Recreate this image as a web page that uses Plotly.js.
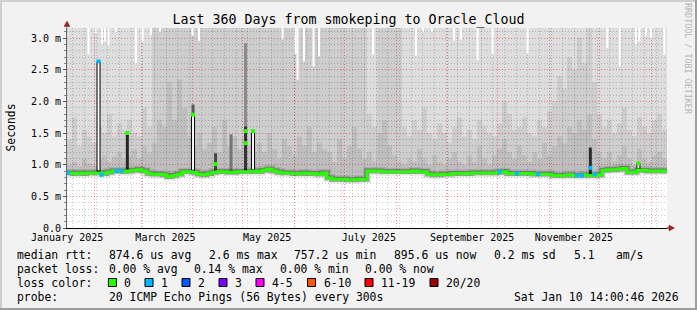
<!DOCTYPE html>
<html><head><meta charset="utf-8">
<script src="https://cdn.plot.ly/plotly-3.0.1.min.js"></script>
<style>html,body{margin:0;padding:0;background:#f2f2f2;overflow:hidden}#chart{width:697px;height:310px}</style>
</head><body><div id="chart"></div>
<script>
// ---------------- data ----------------
const rangeStart = '2025-01-15 14:00';
const rangeEnd   = '2026-01-10 14:00';
const bucketDays = 3;

// median RTT per 3-day bucket (ms)
const medianRtt = [
0.87,0.86,0.87,0.86,0.87,0.87,0.87,0.86,0.88,0.90,
0.90,0.89,0.90,0.91,0.92,0.90,0.86,0.85,0.85,0.84,
0.81,0.83,0.85,0.89,0.89,0.88,0.85,0.84,0.86,0.88,
0.89,0.89,0.88,0.88,0.89,0.89,0.89,0.90,0.89,0.91,
0.93,0.90,0.88,0.87,0.87,0.86,0.86,0.87,0.86,0.86,
0.85,0.87,0.79,0.77,0.77,0.77,0.76,0.76,0.77,0.77,
0.90,0.90,0.90,0.89,0.89,0.89,0.89,0.89,0.89,0.90,
0.89,0.89,0.85,0.84,0.84,0.85,0.85,0.86,0.86,0.86,
0.86,0.87,0.87,0.87,0.87,0.87,0.88,0.89,0.86,0.86,
0.86,0.86,0.86,0.85,0.85,0.85,0.85,0.83,0.83,0.83,
0.84,0.83,0.83,0.84,0.83,0.83,0.84,0.91,0.92,0.92,
0.93,0.94,0.88,0.88,0.91,0.91,0.90,0.90,0.90,0.90];

// upper edge of the dense smoke (ms)
const smokeInner = [
1.00,1.05,0.98,1.10,1.02,0.99,1.08,1.15,1.05,1.12,
1.20,1.10,1.15,1.25,1.10,1.30,1.18,1.35,1.70,1.60,
2.30,1.70,2.35,1.90,1.45,1.30,1.50,1.25,1.35,1.60,
1.20,1.70,1.30,1.45,1.25,1.40,1.30,1.20,1.35,1.20,
1.50,1.25,1.10,1.40,1.30,1.15,1.45,1.30,1.60,1.20,
1.35,1.25,1.20,1.05,1.40,1.10,1.30,1.60,1.25,1.10,
1.20,1.05,1.50,1.70,1.30,1.15,1.05,1.00,1.10,1.05,
1.25,1.10,1.00,1.15,1.05,1.00,1.10,1.20,1.05,1.00,
1.15,1.05,1.30,1.10,1.00,1.15,1.25,1.40,1.20,1.10,
1.30,1.15,1.05,1.20,1.10,1.35,1.15,1.30,1.45,1.35,
1.60,1.50,1.70,1.55,1.80,1.40,1.20,1.10,1.20,1.05,
1.15,1.30,1.10,1.00,1.25,1.10,1.05,1.15,1.20,1.10];

// upper edge of the middle smoke (ms; 3.2 = off the top of the chart)
const smokeOuter = [
1.40,1.75,1.30,1.55,1.45,1.35,1.60,1.50,1.80,1.45,
1.65,1.55,1.70,1.50,1.45,1.90,1.60,3.2,3.2,3.2,
3.2,3.2,3.2,3.2,3.2,3.2,3.2,3.2,3.2,3.2,
3.2,3.2,3.2,3.2,3.2,3.2,3.2,3.2,3.2,3.2,
3.2,3.2,3.2,3.2,3.2,3.2,3.2,3.2,3.2,3.2,
3.2,3.2,3.2,3.2,3.2,3.2,3.2,3.2,3.2,3.2,
1.80,1.60,3.2,3.2,3.2,3.2,3.2,1.60,1.45,1.70,
1.55,1.90,1.50,1.40,1.65,1.50,1.35,1.60,1.75,1.45,
1.55,1.40,1.70,1.60,1.50,1.45,1.65,2.00,1.80,1.55,
1.60,1.75,1.50,1.45,1.70,1.60,1.85,2.00,2.40,2.20,
2.70,2.50,3.00,2.60,3.20,2.30,1.80,1.60,1.70,1.50,
1.65,1.90,1.55,1.45,1.75,1.60,1.50,1.70,1.80,1.55];

// max ping per bucket (ms; 3.2 = off the top of the chart)
const maxPing = [
3.2,3.2,3.2,3.2,3.2,3.2,3.2,3.2,3.2,3.2,
3.2,3.2,3.2,3.2,3.2,3.2,3.2,3.2,3.2,3.2,
3.2,3.2,3.2,3.2,3.2,3.2,3.2,3.2,3.2,3.2,
3.2,3.2,3.2,3.2,3.2,3.2,3.2,3.2,3.2,3.2,
3.2,3.2,3.2,3.2,3.2,3.2,3.2,3.2,3.2,3.2,
3.2,3.2,3.2,3.2,3.2,3.2,3.2,3.2,3.2,3.2,
3.2,3.2,3.2,3.2,3.2,3.2,3.2,3.2,3.2,3.2,
3.2,3.2,3.2,3.2,3.2,3.2,3.2,3.2,3.2,3.2,
3.2,3.2,3.2,3.2,3.2,3.2,3.2,3.2,3.2,3.2,
3.2,3.2,3.2,3.2,3.2,3.2,3.2,3.2,3.2,3.2,
3.2,3.2,3.2,3.2,3.2,3.2,3.2,3.2,3.2,3.2,
3.2,3.2,3.2,3.2,3.2,3.2,3.2,3.2,3.2,3.2];

// single days whose max ping stayed on the chart (gap above it)
const gapTimes = ['2025-01-28 12:00','2025-02-01 19:00','2025-02-05 14:00','2025-02-07 10:00','2025-02-09 12:00',
'2025-02-13 22:00','2025-02-25 22:00','2025-03-01 22:00','2025-03-06 22:00','2025-03-12 10:00',
'2025-03-31 22:00','2025-04-04 19:00','2025-05-24 22:00','2025-06-01 17:00','2025-06-02 22:00',
'2025-06-06 19:00','2025-06-12 12:00','2025-06-15 19:00','2025-07-18 05:00','2025-08-13 00:00',
'2025-08-17 05:00','2025-08-22 14:00','2025-09-04 19:00','2025-09-09 00:00','2025-09-18 22:00',
'2025-09-27 22:00','2025-10-18 22:00','2025-12-05 19:00','2025-12-13 07:00','2025-12-22 22:00',
'2025-12-25 00:00','2025-12-28 22:00','2025-12-31 22:00','2026-01-09 00:00'];
const gapMax = [2.74,3.08,2.90,2.95,2.88,3.10,2.60,2.95,3.05,3.10,3.04,2.95,2.98,2.75,2.34,2.63,2.55,2.71,2.74,2.72,
3.10,3.10,2.96,2.98,2.65,2.74,2.76,2.84,2.55,2.90,2.95,3.03,3.00,2.74];

// median spikes (whole bucket of pings moved up)
const spikeTimes = ['2025-02-03 12:00','2025-04-01 05:00','2025-05-07 05:00','2025-12-24 10:00'];
const spikeBase  = [0.87, 0.88, 0.89, 0.90];
const spikeTop   = [2.63, 1.79, 1.53, 1.02];
const spikeLoss  = [1, 0, 0, 0];

// dense dark smoke columns
const burstTimes  = ['2025-02-20 19:00','2025-04-01 05:00','2025-04-14 17:00','2025-04-24 00:00','2025-05-02 17:00','2025-05-02 17:00','2025-11-25 14:00'];
const burstBase   = [0.90, 0.89, 0.89, 0.89, 0.89, 0.89, 0.84];
const burstTop    = [1.50, 1.95, 1.18, 1.48, 2.92, 1.60, 1.27];
const burstMedian = [1.50, null, 1.01, null, 1.34, 1.53, 0.95];
const burstLoss   = [0, 0, 0, 0, 0, 0, 1];
const burstShade  = ['#262626','#5a5a5a','#474747','#767676','#8a8a8a','#333333','#2a2a2a'];

// median samples with 1 lost ping
const loss1Times = ['2025-01-16 05:00','2025-02-05 07:00','2025-02-14 07:00','2025-02-17 07:00','2025-10-02 07:00',
'2025-10-12 14:00','2025-10-25 05:00','2025-11-17 14:00','2025-11-20 14:00','2025-11-28 07:00'];
const loss1Vals  = [0.87, 0.84, 0.90, 0.90, 0.89, 0.86, 0.85, 0.83, 0.83, 0.85];

const yTickVals = [0, 0.5, 1.0, 1.5, 2.0, 2.5, 3.0];
const yTickText = ['0.0', '0.5 m', '1.0 m', '1.5 m', '2.0 m', '2.5 m', '3.0 m'];
const monthLabelTimes = ['2025-01-15 16:00','2025-03-15 16:00','2025-05-15 16:00','2025-07-15 16:00','2025-09-15 16:00','2025-11-15 16:00'];
const monthLabels = ['January 2025','March 2025','May 2025','July 2025','September 2025','November 2025'];

const lossLabels = ['0','1','2','3','4-5','6-10','11-19','20/20'];
const lossColors = ['#26ff00','#00b8ff','#0059ff','#7e00ff','#ff00ff','#ff5500','#ff0000','#a10000'];

const titleText = 'Last 360 Days from smokeping to Oracle_Cloud';
const statLines = [
  [[16,'median rtt:'],[107.6,'874.6 us avg'],[208,'2.6 ms max'],[293,'757.2 us min'],[393,'895.6 us now'],[493,'0.2 ms sd'],[573,'5.1'],[615,'am/s']],
  [[16,'packet loss:'],[107.6,'0.00 % avg'],[193.3,'0.14 % max'],[279,'0.00 % min'],[364.4,'0.00 % now']],
  [[16,'loss color:']],
  [[16,'probe:'],[107.6,'20 ICMP Echo Pings (56 Bytes) every 300s']]
];
const statY = [255, 268.5, 282.5, 296.7];
const stampText = 'Sat Jan 10 14:00:46 2026';
const lossBoxX = [108.4,145,182,219,256,307.5,365,430];

// ---------------- rendering ----------------
const W=697, H=310, ML=67, MR=30, MT=28, MB=82;
const PW=W-ML-MR, PH=H-MT-MB;
const px = x => (x-ML)/PW;
const py = y => 1-(y-MT)/PH;
const DAY = 864e5;
const toMs = s => Date.parse(s.replace(' ','T')+':00Z');
const T0 = toMs(rangeStart), T1 = toMs(rangeEnd);
const N = medianRtt.length;
const X = []; for(let i=0;i<=N;i++) X.push(T0+i*bucketDays*DAY);
const stepY = a => a.concat([a[a.length-1]]);
const Y_TOP = 3.158;
const FONT = "'DejaVu Sans Mono', monospace";
const base = {type:'scatter', hoverinfo:'skip', showlegend:false};

function vsegs(times, lo, hi){
  const x=[], y=[];
  times.forEach((t,i)=>{const m=toMs(t); x.push(m,m,null); y.push(lo[i],hi[i],null);});
  return {x,y};
}

const traces = [];
traces.push({...base, x:X, y:stepY(medianRtt), mode:'lines', line:{width:0,color:'rgba(0,0,0,0)',shape:'hv'}});
[[smokeInner,'rgba(0,0,0,0.255)'],[smokeOuter,'rgba(0,0,0,0.195)'],[maxPing,'rgba(0,0,0,0.135)']].forEach(([a,c])=>{
  traces.push({...base, x:X, y:stepY(a), mode:'lines', line:{width:0,color:'rgba(0,0,0,0)',shape:'hv'}, fill:'tonexty', fillcolor:c});
});
// gaps above the max ping
traces.push({...base, ...vsegs(gapTimes, gapMax, gapTimes.map(()=>Y_TOP+0.2)), mode:'lines', line:{color:'#ffffff', width:2}});
// dark bursts
burstTimes.forEach((t,i)=>{
  traces.push({...base, ...vsegs([t],[burstBase[i]],[burstTop[i]]), mode:'lines', line:{color:burstShade[i], width:3}});
});
// halo around median
traces.push({...base, x:X, y:stepY(medianRtt), mode:'lines', line:{shape:'hv', width:8, color:'rgba(0,0,0,0.1)'}});
traces.push({...base, x:X, y:stepY(medianRtt), mode:'lines', line:{shape:'hv', width:4.8, color:'rgba(0,0,0,0.32)'}});
// median spikes
traces.push({...base, ...vsegs(spikeTimes, spikeBase, spikeTop), mode:'lines', line:{color:'#000000', width:4}});
traces.push({...base, ...vsegs(spikeTimes, spikeBase.map(v=>v+0.04), spikeTop), mode:'lines', line:{color:'#ffffff', width:2}});
// median line
traces.push({...base, x:X, y:stepY(medianRtt), mode:'lines', line:{shape:'hv', width:3, color:lossColors[0]}});
// loss markers
traces.push({...base, x:loss1Times.map(toMs), y:loss1Vals, mode:'markers', marker:{symbol:'square', size:4, color:lossColors[1], line:{width:0}}});
traces.push({...base, x:spikeTimes.map(toMs), y:spikeTop, mode:'markers', marker:{symbol:'square', size:4, color:spikeLoss.map(k=>lossColors[k]), line:{width:0}}});
traces.push({...base, x:burstTimes.map(toMs), y:burstMedian, mode:'markers', marker:{symbol:'square', size:4, color:burstLoss.map(k=>lossColors[k]), line:{width:0}}});
// label axis carrier
traces.push({...base, x:[T0], y:[null], xaxis:'x2', mode:'markers'});

// grid positions
const monthStarts = []; for(let m=1;m<=12;m++) monthStarts.push(Date.UTC(2025,m,1));
const weekLines = []; for(let t=Date.UTC(2025,0,19); t<T1; t+=7*DAY) weekLines.push(t);
const yMinor = []; for(let k=1;k<=31;k++) if(k%5) yMinor.push(k/10);

const GRID_MINOR = 'rgba(0,0,0,0.2)', GRID_MAJOR = 'rgba(255,0,0,0.42)', DASH='1px,2px';

const annotations = [];
statLines.forEach((row,r)=>row.forEach(([x,t])=>annotations.push({xref:'paper',yref:'paper',x:px(x),y:py(statY[r]),xanchor:'left',yanchor:'middle',text:t,showarrow:false,borderpad:0,font:{family:FONT,size:11.4,color:'#000'}})));
annotations.push({xref:'paper',yref:'paper',x:px(680),y:py(statY[3]),xanchor:'right',yanchor:'middle',text:stampText,showarrow:false,borderpad:0,font:{family:FONT,size:11.4,color:'#000'}});
lossLabels.forEach((l,i)=>annotations.push({xref:'paper',yref:'paper',x:px(lossBoxX[i]+15),y:py(statY[2]),xanchor:'left',yanchor:'middle',text:l,showarrow:false,borderpad:0,font:{family:FONT,size:11.4,color:'#000'}}));
annotations.push({xref:'paper',yref:'paper',x:px(10.5),y:py(128),xanchor:'center',yanchor:'middle',text:'Seconds',textangle:-90,showarrow:false,font:{family:FONT,size:11.4,color:'#000'}});
annotations.push({xref:'paper',yref:'paper',x:px(688),y:py(59),xanchor:'center',yanchor:'middle',text:'RRDTOOL / TOBI OETIKER',textangle:90,showarrow:false,font:{family:FONT,size:8.4,color:'#b4b4b4'}});

const shapes = [];
lossColors.forEach((c,i)=>shapes.push({type:'rect',xref:'paper',yref:'paper',x0:px(lossBoxX[i]),x1:px(lossBoxX[i]+8),y0:py(statY[2]+4),y1:py(statY[2]-4),fillcolor:c,line:{color:'#000',width:1}}));
// frame
shapes.push({type:'rect',xref:'paper',yref:'paper',x0:px(0),x1:px(W),y0:py(0),y1:py(2),fillcolor:'#cfcfcf',line:{width:0}});
shapes.push({type:'rect',xref:'paper',yref:'paper',x0:px(0),x1:px(2),y0:py(0),y1:py(H),fillcolor:'#cfcfcf',line:{width:0}});
shapes.push({type:'rect',xref:'paper',yref:'paper',x0:px(W-2),x1:px(W),y0:py(0),y1:py(H),fillcolor:'#9e9e9e',line:{width:0}});
shapes.push({type:'rect',xref:'paper',yref:'paper',x0:px(0),x1:px(W),y0:py(H-2),y1:py(H),fillcolor:'#9e9e9e',line:{width:0}});
// axis extensions and arrows
shapes.push({type:'line',xref:'paper',yref:'paper',x0:px(67),x1:px(67),y0:py(MT),y1:py(25),line:{color:'#666',width:1}});
shapes.push({type:'line',xref:'paper',yref:'paper',x0:px(ML+PW),x1:px(670),y0:py(MT+PH),y1:py(MT+PH),line:{color:'#000',width:1}});
shapes.push({type:'path',xref:'paper',yref:'paper',path:`M ${px(64)},${py(26.5)} L ${px(67)},${py(21)} L ${px(70)},${py(26.5)} Z`,fillcolor:'#9b2222',line:{color:'#9b2222',width:0.5}});
shapes.push({type:'path',xref:'paper',yref:'paper',path:`M ${px(669)},${py(225)} L ${px(674.5)},${py(228)} L ${px(669)},${py(231)} Z`,fillcolor:'#9b2222',line:{color:'#9b2222',width:0.5}});

const layout = {
  width:W, height:H, autosize:false,
  margin:{l:ML, r:MR, t:MT, b:MB, pad:0},
  paper_bgcolor:'#f2f2f2', plot_bgcolor:'#ffffff',
  showlegend:false,
  title:{text:titleText, x:0.5, xref:'container', xanchor:'center', y:1-19.5/H, yref:'container', yanchor:'middle', font:{family:FONT, size:13.3, color:'#000'}},
  xaxis:{type:'date', range:[T0,T1], tickmode:'array', tickvals:monthStarts, showticklabels:false, ticks:'',
    showgrid:true, gridcolor:GRID_MAJOR, griddash:DASH, gridwidth:1,
    minor:{tickmode:'array', tickvals:weekLines, showgrid:true, gridcolor:GRID_MINOR, griddash:DASH, gridwidth:1, ticks:''},
    showline:true, linecolor:'#000', linewidth:1, zeroline:false, fixedrange:true, layer:'above traces'},
  xaxis2:{type:'date', overlaying:'x', anchor:'y', side:'bottom', range:[T0,T1], tickmode:'array', tickvals:monthLabelTimes.map(toMs), ticktext:monthLabels,
    showgrid:false, ticks:'', showline:false, zeroline:false, ticklabelstandoff:2, tickfont:{family:FONT, size:10, color:'#000'}, fixedrange:true},
  yaxis:{range:[0,Y_TOP], tickmode:'array', tickvals:yTickVals, ticktext:yTickText, ticks:'outside', ticklen:3, tickcolor:'#555', tickwidth:1,
    showgrid:true, gridcolor:GRID_MAJOR, griddash:DASH, gridwidth:1,
    minor:{tickmode:'array', tickvals:yMinor, showgrid:true, gridcolor:GRID_MINOR, griddash:DASH, gridwidth:1, ticks:'outside', ticklen:2, tickcolor:'#888'},
    showline:true, linecolor:'#666', linewidth:1, zeroline:false, fixedrange:true, layer:'above traces',
    tickfont:{family:FONT, size:10, color:'#000'}},
  annotations, shapes
};

Plotly.newPlot('chart', traces, layout, {staticPlot:true, displayModeBar:false});
</script></body></html>
